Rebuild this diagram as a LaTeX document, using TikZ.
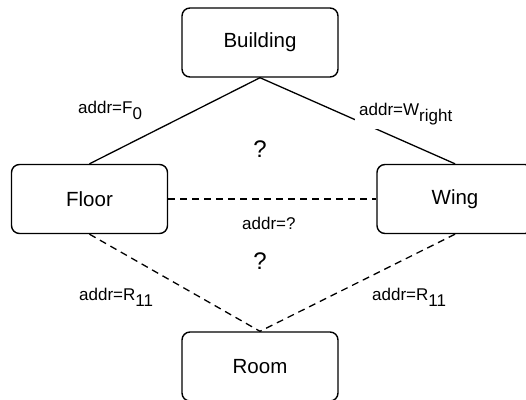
\documentclass[tikz,border=0pt]{standalone}
\usepackage{fontspec}
\setmainfont{Liberation Sans}
\usepackage{tikz}
\usetikzlibrary{positioning}
\tikzstyle{place} = [rectangle, rounded corners=8pt, minimum width=156pt, minimum height=69pt, text centered, draw=black, line width=1.4pt, font=\fontsize{20.5}{24}\selectfont]
\tikzstyle{addr} = [inner sep=0pt, anchor=base west, font=\fontsize{17}{20}\selectfont]
\tikzstyle{ask} = [inner sep=0pt, anchor=base, font=\fontsize{24}{28}\selectfont]
\tikzstyle{known} = [line width=1.3pt]
\tikzstyle{guess} = [line width=1.3pt, dash pattern=on 7pt off 5pt]
\newcommand{\lowidx}[1]{\raisebox{-6pt}{#1}}

\begin{document}
\begin{tikzpicture}[x=1pt, y=-1pt]
\useasboundingbox (0,0) rectangle (526,399);
\clip (0,0) rectangle (526,399);
\node (building) [place] at (260,42.5) {Building};
\node (floor) [place] at (89.5,199) {Floor};
\node (wing) [place] at (455,199) {Wing};
\node (room) [place] at (260,366.5) {Room};
\draw [known] (building.south) -- (floor.north);
\draw [known] (building.south) -- (wing.north);
\draw [guess] (floor.east) -- (wing.west);
\draw [guess] (floor.south) -- (room.north);
\draw [guess] (wing.south) -- (room.north);
\node (lf) [addr] at (78,113) {addr=F\lowidx{0}};
\node (lw) [addr, fill=white, inner sep=4pt] at (355,115) {addr=W\lowidx{right}};
\node (lfw) [addr] at (242,229) {addr=?};
\node (lrl) [addr] at (79,300) {addr=R\lowidx{11}};
\node (lrr) [addr] at (372,300) {addr=R\lowidx{11}};
\node (q1) [ask] at (260,157) {?};
\node (q2) [ask] at (260,269) {?};
\end{tikzpicture}
\end{document}
